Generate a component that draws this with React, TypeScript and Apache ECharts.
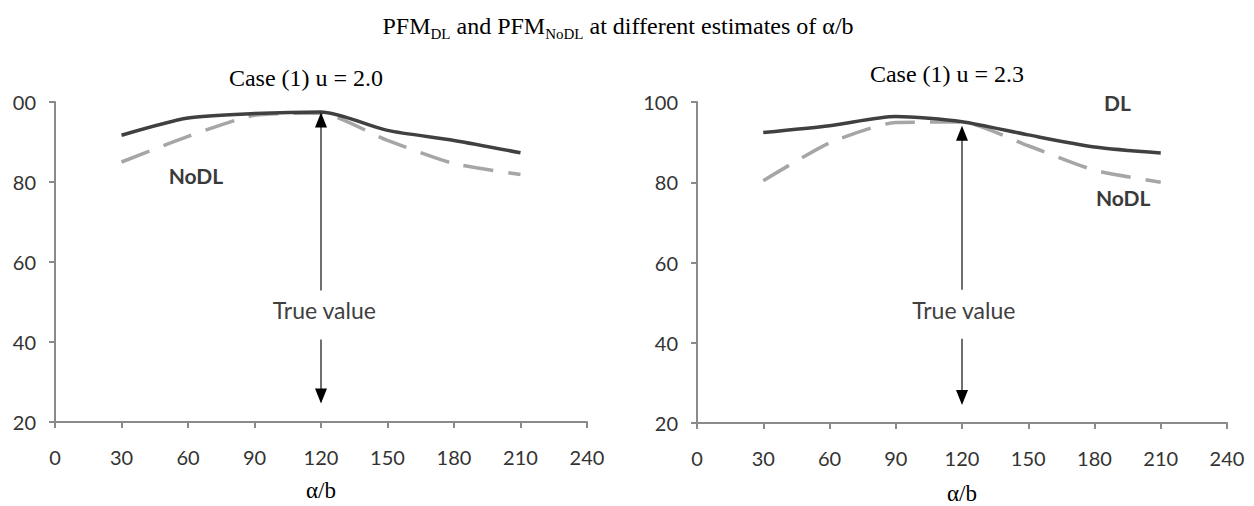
import React, { useEffect, useRef } from "react";
import * as echarts from "echarts";

// α/b estimates (x values)
const alphaB = [30, 60, 90, 120, 150, 180, 210];
// Case (1) u = 2.0
const dlU20 = [91.7, 96.0, 97.1, 97.5, 92.9, 90.4, 87.3];
const noDlU20 = [85.0, 91.4, 96.7, 97.2, 90.4, 84.6, 81.9];
// Case (1) u = 2.3
const dlU23 = [92.4, 94.1, 96.4, 95.1, 91.8, 88.8, 87.3];
const noDlU23 = [80.4, 89.8, 94.9, 95.0, 89.1, 83.0, 80.0];

const trueValue = 120;
// arrow ends (value units): [upper tip, upper base, lower start, lower tip]
const arrowLeft = [97.4, 52.9, 40.6, 24.6];
const arrowRight = [94.1, 53.2, 41.0, 24.5];

const xTicks = { min: 0, max: 240, interval: 30 };
const yTicks = { min: 20, max: 100, interval: 20 };

const SANS = "Lato";
const SERIF = "Liberation Serif";

function pairs(ys: number[]) {
  return alphaB.map((x, i) => [x, ys[i]]);
}

function annot(arrow: number[], labels: { text: string; at: number[]; bold?: boolean }[]) {
  return {
    markLine: {
      silent: true,
      symbol: ["none", "none"],
      animation: false,
      label: { show: false },
      lineStyle: { color: "#707070", width: 2, type: "solid" },
      data: [
        [{ coord: [trueValue, arrow[1]] }, { coord: [trueValue, arrow[0] - 3] }],
        [{ coord: [trueValue, arrow[2]] }, { coord: [trueValue, arrow[3] + 3] }],
      ],
    },
    markPoint: {
      silent: true,
      animation: false,
      data: [
        {
          coord: [trueValue, arrow[0]],
          symbol: "triangle",
          symbolSize: [12, 15],
          symbolOffset: [0, 7.5],
          itemStyle: { color: "#000" },
          label: { show: false },
        },
        {
          coord: [trueValue, arrow[3]],
          symbol: "triangle",
          symbolSize: [12, 15],
          symbolRotate: 180,
          symbolOffset: [0, -7.5],
          itemStyle: { color: "#000" },
          label: { show: false },
        },
        ...labels.map((l) => ({
          coord: l.at,
          symbol: "circle",
          symbolSize: 1,
          itemStyle: { color: "rgba(0,0,0,0)" },
          label: {
            show: true,
            position: "inside",
            formatter: l.text,
            color: l.bold ? "#3a3a3a" : "#404040",
            fontFamily: SANS,
            fontSize: l.bold ? 21 : 23,
            fontWeight: l.bold ? "bold" : "normal",
          },
        })),
      ],
    },
  };
}

export default function App() {
  const ref = useRef<HTMLDivElement>(null);
  useEffect(() => {
    if (!ref.current) return;
    const chart = echarts.init(ref.current, null, { renderer: "svg" });
    const axisLine = { show: true, lineStyle: { color: "#8a8a8a", width: 2 } };
    const axisTick = { show: true, length: 6, lineStyle: { color: "#8a8a8a", width: 2 } };
    const xAxisBase = (gridIndex: number, gap: number) => ({
      type: "value",
      gridIndex,
      ...xTicks,
      axisLine,
      axisTick,
      splitLine: { show: false },
      axisLabel: { margin: 25, color: "#333", fontFamily: SANS, fontSize: 20, showMinLabel: true, showMaxLabel: true },
      name: "α/b",
      nameLocation: "middle",
      nameGap: gap,
      nameTextStyle: { fontFamily: SERIF, fontSize: 23, lineHeight: 22, color: "#000" },
    });
    const yAxisBase = (gridIndex: number, clip100: boolean) => ({
      type: "value",
      gridIndex,
      ...yTicks,
      axisLine,
      axisTick,
      splitLine: { show: false },
      axisLabel: {
        margin: 19,
        color: "#333",
        fontFamily: SANS,
        fontSize: 20,
        showMinLabel: true,
        showMaxLabel: true,
        formatter: (v: number) => (clip100 && v === 100 ? "00" : String(v)),
      },
    });
    const dlStyle = { color: "#404040", width: 3.5, type: "solid" };
    const noDlStyle = { color: "#a6a6a6", width: 3.5, type: [30, 15] };
    const option = {
      animation: false,
      backgroundColor: "#fff",
      grid: [
        { left: 55, top: 102, width: 532, height: 320, outerBoundsMode: "none", containLabel: false },
        { left: 697, top: 102, width: 530, height: 321, outerBoundsMode: "none", containLabel: false },
      ],
      xAxis: [xAxisBase(0, 57), xAxisBase(1, 59)],
      yAxis: [yAxisBase(0, true), yAxisBase(1, false)],
      series: [
        {
          name: "DL u=2.0",
          type: "line",
          xAxisIndex: 0,
          yAxisIndex: 0,
          data: pairs(dlU20),
          smooth: 0.25,
          symbol: "none",
          lineStyle: dlStyle,
          z: 3,
          ...annot(arrowLeft, [
            { text: "NoDL", at: [63.6, 81.7], bold: true },
            { text: "True value", at: [121.5, 47.9] },
          ]),
        },
        {
          name: "NoDL u=2.0",
          type: "line",
          xAxisIndex: 0,
          yAxisIndex: 0,
          data: pairs(noDlU20),
          smooth: 0.2,
          symbol: "none",
          lineStyle: noDlStyle,
          z: 2,
        },
        {
          name: "DL u=2.3",
          type: "line",
          xAxisIndex: 1,
          yAxisIndex: 1,
          data: pairs(dlU23),
          smooth: 0.25,
          symbol: "none",
          lineStyle: dlStyle,
          z: 3,
          ...annot(arrowRight, [
            { text: "DL", at: [190.4, 100], bold: true },
            { text: "NoDL", at: [193, 76.1], bold: true },
            { text: "True value", at: [120.8, 48.2] },
          ]),
        },
        {
          name: "NoDL u=2.3",
          type: "line",
          xAxisIndex: 1,
          yAxisIndex: 1,
          data: pairs(noDlU23),
          smooth: 0.2,
          symbol: "none",
          lineStyle: noDlStyle,
          z: 2,
        },
      ],
      graphic: [
        {
          type: "text",
          x: 618,
          y: 26,
          style: {
            text: "{m|PFM}{s|DL}{m| and PFM}{s|NoDL}{m| at different estimates of α/b}",
            align: "center",
            verticalAlign: "middle",
            rich: {
              m: { fontFamily: SERIF, fontSize: 24, lineHeight: 30, fill: "#000" },
              s: { fontFamily: SERIF, fontSize: 15, lineHeight: 16, verticalAlign: "bottom", fill: "#000" },
            },
          },
        },
        {
          type: "text",
          x: 306,
          y: 78,
          style: { text: "Case (1) u = 2.0", align: "center", verticalAlign: "middle", fontFamily: SERIF, fontSize: 24, fill: "#000" },
        },
        {
          type: "text",
          x: 947,
          y: 74,
          style: { text: "Case (1) u = 2.3", align: "center", verticalAlign: "middle", fontFamily: SERIF, fontSize: 24, fill: "#000" },
        },
      ],
    };
    chart.setOption(option as any);
    return () => chart.dispose();
  }, []);
  return (
    <div
      ref={ref}
      style={{ position: "absolute", left: 0, top: 0, width: 1254, height: 506, background: "#fff" }}
    />
  );
}
